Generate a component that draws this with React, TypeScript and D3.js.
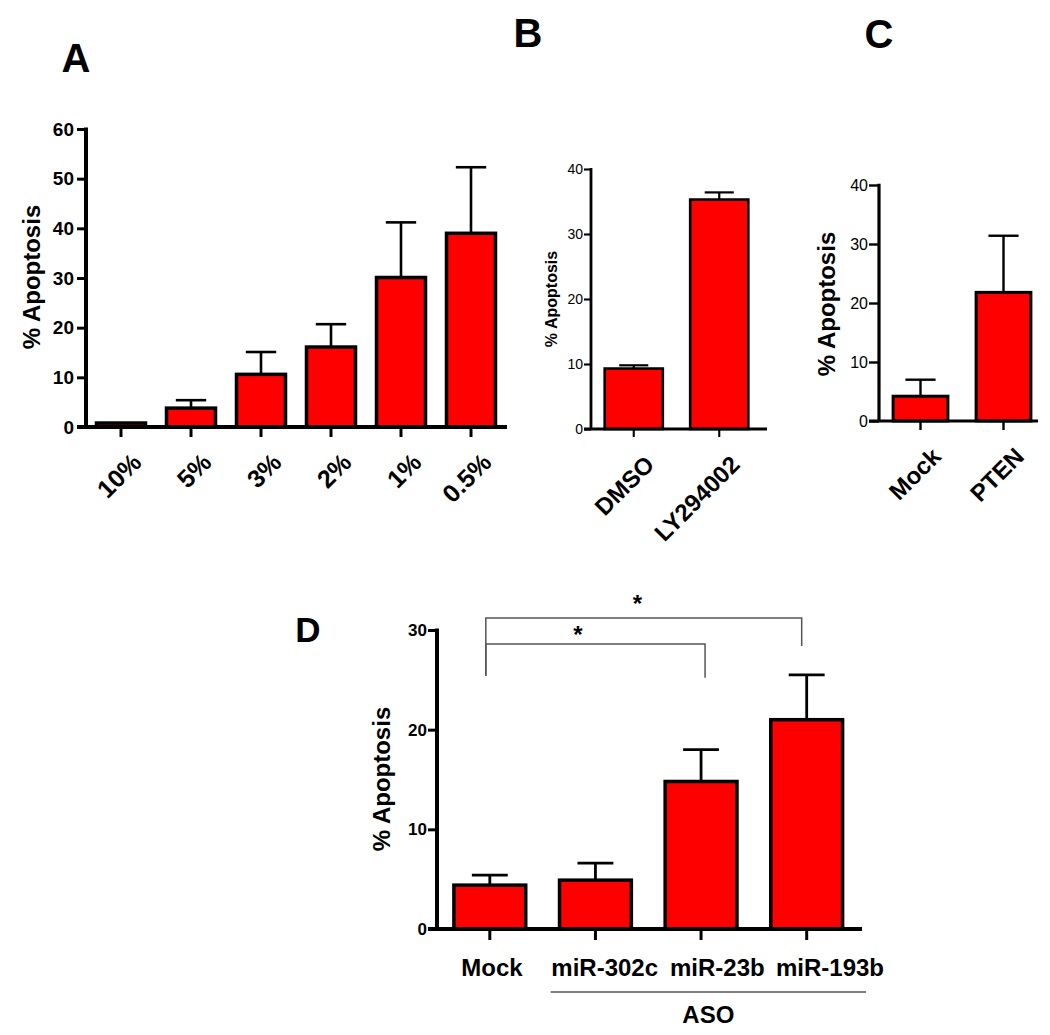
import * as d3 from "d3";
import { useEffect, useRef } from "react";

const FONT = "'Liberation Sans', Arial, Helvetica, sans-serif";
const RED = "#ff0000";

// A: serum concentration
const serumLevels = ["10%", "5%", "3%", "2%", "1%", "0.5%"];
const serumApoptosis = [0.8, 3.8, 10.6, 16.1, 30.1, 39.0];
const serumSem = [0, 1.6, 4.5, 4.6, 11.1, 13.3];
const serumTicks = [0, 10, 20, 30, 40, 50, 60];

// B: PI3K inhibitor
const inhibitorGroups = ["DMSO", "LY294002"];
const inhibitorApoptosis = [9.3, 35.3];
const inhibitorSem = [0.5, 1.1];
const inhibitorTicks = [0, 10, 20, 30, 40];

// C: PTEN overexpression
const ptenGroups = ["Mock", "PTEN"];
const ptenApoptosis = [4.2, 21.8];
const ptenSem = [2.8, 9.6];
const ptenTicks = [0, 10, 20, 30, 40];

// D: ASO knockdown
const asoGroups = ["Mock", "miR-302c", "miR-23b", "miR-193b"];
const asoApoptosis = [4.4, 4.9, 14.8, 21.0];
const asoSem = [1.0, 1.7, 3.2, 4.5];
const asoTicks = [0, 10, 20, 30];
const comparisons = [
  { from: "Mock", to: "miR-23b", level: 28.6, dropFrom: 25.4, dropTo: 25.2, mark: "*", markLevel: 30.0, markAt: 0.42 },
  { from: "Mock", to: "miR-193b", level: 31.2, dropFrom: 25.4, dropTo: 28.4, mark: "*", markLevel: 33.1, markAt: 0.48 },
];

function drawPanel(svg: any, p: any) {
  const x = d3
    .scaleBand()
    .domain(p.cats)
    .range([p.x0, p.x1])
    .paddingInner(p.pad)
    .paddingOuter(p.pad / 2);
  const y = d3
    .scaleLinear()
    .domain([0, d3.max(p.ticks) as number])
    .range([p.yBottom, p.yTop]);
  const g = svg.append("g");
  const rows = p.cats.map((c: string, i: number) => ({ c, m: p.means[i], s: p.sems[i] }));
  const cx = (c: string) => (x(c) as number) + x.bandwidth() / 2;

  const err = g.append("g").attr("stroke", "#000").attr("stroke-width", p.errStroke);
  rows
    .filter((d: any) => d.s > 0)
    .forEach((d: any) => {
      const cw = (x.bandwidth() * p.capFrac) / 2;
      err.append("line").attr("x1", cx(d.c)).attr("x2", cx(d.c)).attr("y1", y(d.m)).attr("y2", y(d.m + d.s));
      err
        .append("line")
        .attr("x1", cx(d.c) - cw)
        .attr("x2", cx(d.c) + cw)
        .attr("y1", y(d.m + d.s))
        .attr("y2", y(d.m + d.s));
    });

  g.append("g")
    .selectAll("rect")
    .data(rows)
    .join("rect")
    .attr("x", (d: any) => x(d.c))
    .attr("width", x.bandwidth())
    .attr("y", (d: any) => y(d.m))
    .attr("height", (d: any) => y(0) - y(d.m))
    .attr("fill", RED)
    .attr("stroke", "#000")
    .attr("stroke-width", p.stroke);

  // y axis
  const yAxis = g
    .append("g")
    .attr("transform", `translate(${p.x0},0)`)
    .call(
      d3
        .axisLeft(y)
        .tickValues(p.ticks)
        .tickSize(p.tickLen)
        .tickPadding(p.tickPad)
        .tickFormat(d3.format("d"))
    );
  yAxis.select(".domain").remove();
  yAxis.selectAll(".tick line").attr("stroke", "#000").attr("stroke-width", p.axisStroke * 0.75);
  yAxis
    .selectAll(".tick text")
    .attr("font-family", FONT)
    .attr("font-size", p.tickSize)
    .attr("font-weight", p.tickWeight)
    .attr("fill", "#000");
  yAxis
    .append("line")
    .attr("y1", y(d3.max(p.ticks) as number) - p.axisStroke * 0.4)
    .attr("y2", y(0))
    .attr("stroke", "#000")
    .attr("stroke-width", p.axisStroke);

  // x axis
  g.append("line")
    .attr("x1", p.x0 - p.tickLen)
    .attr("x2", p.axisEnd)
    .attr("y1", y(0))
    .attr("y2", y(0))
    .attr("stroke", "#000")
    .attr("stroke-width", p.axisStroke);
  g.append("g")
    .selectAll("line")
    .data(p.cats)
    .join("line")
    .attr("x1", (c: string) => cx(c))
    .attr("x2", (c: string) => cx(c))
    .attr("y1", y(0))
    .attr("y2", y(0) + p.xTickLen)
    .attr("stroke", "#000")
    .attr("stroke-width", p.axisStroke * 0.75);

  return { x, y, g, cx };
}

function title(svg: any, t: string, x: number, y: number, size: number) {
  svg
    .append("text")
    .attr("x", x)
    .attr("y", y)
    .attr("text-anchor", "middle")
    .attr("font-family", FONT)
    .attr("font-weight", "bold")
    .attr("font-size", size)
    .text(t);
}

function yLabel(svg: any, x: number, y: number, size: number) {
  svg
    .append("text")
    .attr("transform", `translate(${x},${y}) rotate(-90)`)
    .attr("dy", "0.35em")
    .attr("text-anchor", "middle")
    .attr("font-family", FONT)
    .attr("font-weight", "bold")
    .attr("font-size", size)
    .text("% Apoptosis");
}

function slantedLabels(g: any, cats: string[], cx: any, base: number, size: number) {
  g.append("g")
    .selectAll("text")
    .data(cats)
    .join("text")
    .attr("transform", (c: string) => `translate(${cx(c) + 22},${base + 37}) rotate(-45)`)
    .attr("text-anchor", "end")
    .attr("font-family", FONT)
    .attr("font-weight", "bold")
    .attr("font-size", size)
    .text((c: string) => c);
}

export default function App() {
  const ref = useRef<SVGSVGElement>(null);

  useEffect(() => {
    document.body.style.margin = "0";
    const svg = d3.select(ref.current);
    svg.selectAll("*").remove();

    // A
    const a = drawPanel(svg, {
      cats: serumLevels, means: serumApoptosis, sems: serumSem, ticks: serumTicks,
      x0: 86, x1: 506, yTop: 129, yBottom: 427, axisEnd: 507, pad: 0.3,
      stroke: 3.5, errStroke: 2.6, axisStroke: 4, capFrac: 0.62, tickLen: 9, tickPad: 3,
      xTickLen: 10, tickSize: 19, tickWeight: "bold",
    });
    slantedLabels(a.g, serumLevels, a.cx, 427, 25);
    yLabel(svg, 32, 277, 24);
    title(svg, "A", 76, 72, 40);

    // B
    const b = drawPanel(svg, {
      cats: inhibitorGroups, means: inhibitorApoptosis, sems: inhibitorSem, ticks: inhibitorTicks,
      x0: 591, x1: 762, yTop: 169, yBottom: 429, axisEnd: 767, pad: 0.32,
      stroke: 2.6, errStroke: 2.2, axisStroke: 2.8, capFrac: 0.5, tickLen: 7, tickPad: 1,
      xTickLen: 8, tickSize: 14, tickWeight: "normal",
    });
    slantedLabels(b.g, inhibitorGroups, b.cx, 429, 24);
    yLabel(svg, 551, 299, 16);
    title(svg, "B", 528, 47, 40);

    // C
    const c = drawPanel(svg, {
      cats: ptenGroups, means: ptenApoptosis, sems: ptenSem, ticks: ptenTicks,
      x0: 879, x1: 1045, yTop: 185, yBottom: 421, axisEnd: 1038, pad: 0.34,
      stroke: 3, errStroke: 2.4, axisStroke: 3.2, capFrac: 0.55, tickLen: 10, tickPad: 1,
      xTickLen: 9, tickSize: 16, tickWeight: "normal",
    });
    slantedLabels(c.g, ptenGroups, c.cx, 421, 24);
    yLabel(svg, 827, 304, 24);
    title(svg, "C", 879, 48, 40);

    // D
    const d = drawPanel(svg, {
      cats: asoGroups, means: asoApoptosis, sems: asoSem, ticks: asoTicks,
      x0: 437, x1: 859.5, yTop: 630, yBottom: 929, axisEnd: 862, pad: 0.32,
      stroke: 3.5, errStroke: 2.8, axisStroke: 4, capFrac: 0.5, tickLen: 9, tickPad: 1,
      xTickLen: 11, tickSize: 17, tickWeight: "bold",
    });
    yLabel(svg, 382, 779, 24);
    title(svg, "D", 308, 642, 35);

    const labelX = d3.scalePoint().domain(asoGroups).range([492, 830]);
    svg
      .append("g")
      .selectAll("text")
      .data(asoGroups)
      .join("text")
      .attr("x", (g: string) => labelX(g))
      .attr("y", 976)
      .attr("text-anchor", "middle")
      .attr("font-family", FONT)
      .attr("font-weight", "bold")
      .attr("font-size", 24)
      .text((g: string) => g);

    const asoStart = (labelX("miR-302c") as number) - 54;
    const asoEnd = (labelX("miR-193b") as number) + 36;
    svg
      .append("line")
      .attr("x1", asoStart)
      .attr("x2", asoEnd)
      .attr("y1", 992)
      .attr("y2", 992)
      .attr("stroke", "#555")
      .attr("stroke-width", 1.5);
    svg
      .append("text")
      .attr("x", (asoStart + asoEnd) / 2)
      .attr("y", 1023)
      .attr("text-anchor", "middle")
      .attr("font-family", FONT)
      .attr("font-weight", "bold")
      .attr("font-size", 24)
      .text("ASO");

    // significance brackets
    const br = svg.append("g").attr("fill", "none").attr("stroke", "#555").attr("stroke-width", 1.5);
    comparisons.forEach((k) => {
      const x1 = d.cx(k.from) - 4;
      const x2 = d.cx(k.to) + (k.to === "miR-23b" ? 4 : -5);
      br.append("path").attr(
        "d",
        `M${x1},${d.y(k.dropFrom)}V${d.y(k.level)}H${x2}V${d.y(k.dropTo)}`
      );
      svg
        .append("text")
        .attr("x", x1 + (x2 - x1) * k.markAt)
        .attr("y", d.y(k.markLevel) + 13)
        .attr("text-anchor", "middle")
        .attr("font-family", FONT)
        .attr("font-weight", "bold")
        .attr("font-size", 24)
        .text(k.mark);
    });
  }, []);

  return (
    <svg
      ref={ref}
      width={1050}
      height={1035}
      style={{ position: "absolute", left: 0, top: 0, background: "#fff" }}
    ></svg>
  );
}
